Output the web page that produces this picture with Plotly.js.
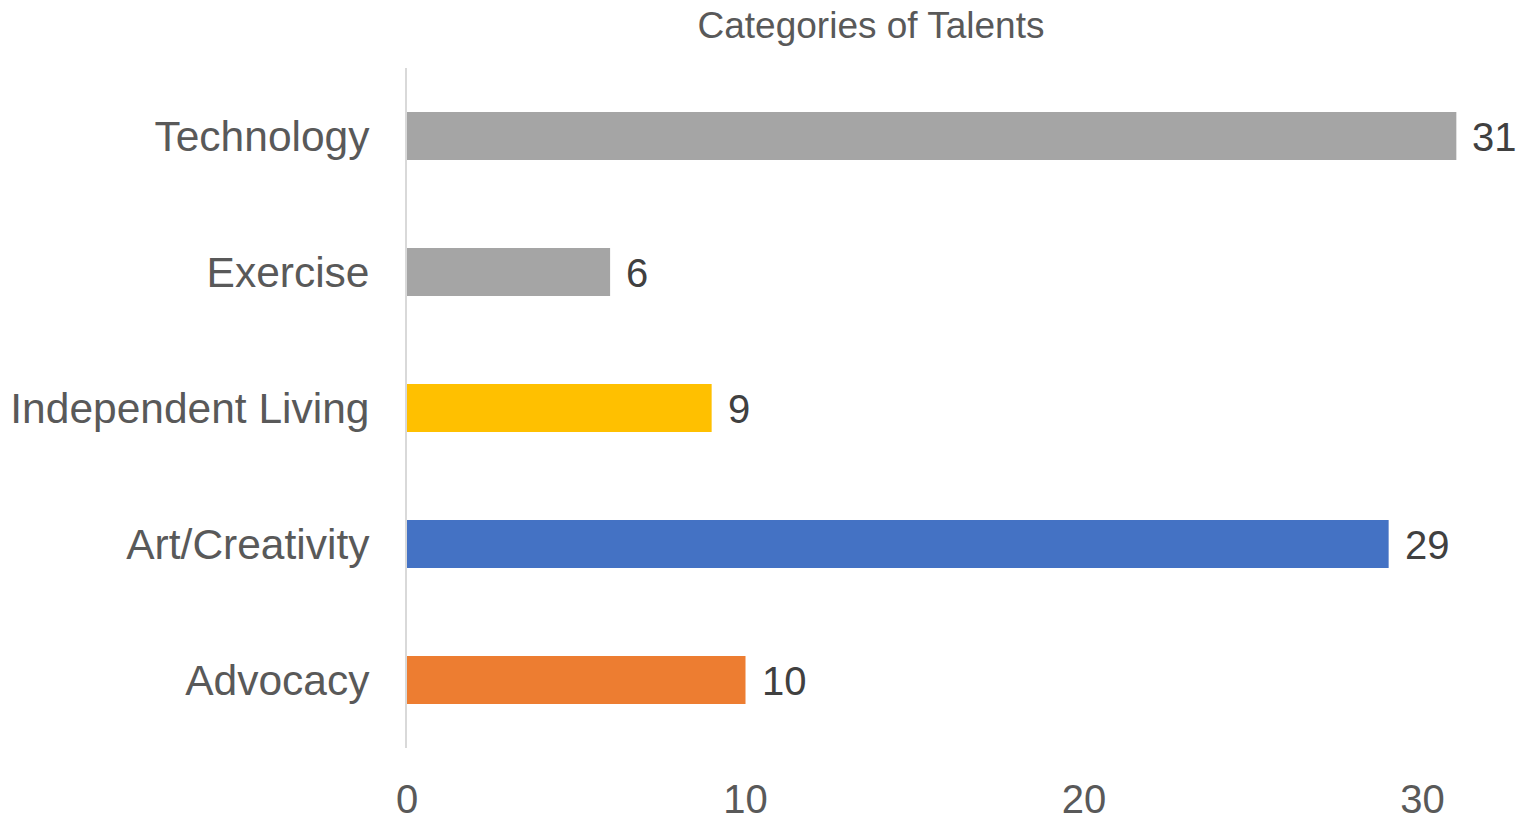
<!DOCTYPE html>
<html>
<head>
<meta charset="utf-8">
<script src="https://cdn.plot.ly/plotly-3.0.1.min.js"></script>
<style>html,body{margin:0;padding:0;background:#fff;}#chart{width:1519px;height:817px;}</style>
</head>
<body>
<div id="chart"></div>
<script>
// Categories listed bottom -> top
const categories = ["Advocacy", "Art/Creativity", "Independent Living", "Exercise", "Technology"];
const values = [10, 29, 9, 6, 31];
const barColors = ["#ED7D31", "#4472C4", "#FFC000", "#A5A5A5", "#A5A5A5"];
const xTicks = [0, 10, 20, 30];
const chartTitle = "Categories of Talents";

const FONT = "Liberation Sans, Arial, sans-serif";

const trace = {
  type: "bar",
  orientation: "h",
  y: categories,
  x: values,
  marker: {color: barColors, line: {width: 0}},
  hoverinfo: "x+y"
};

const annotations = categories.map((c, i) => ({
  x: values[i], y: c, xref: "x", yref: "y",
  text: String(values[i]), showarrow: false,
  xanchor: "left", xshift: 14, yshift: -1,
  font: {family: FONT, size: 40, color: "#404040"}
}));

const layout = {
  width: 1519, height: 817,
  margin: {l: 407, r: 0, t: 68, b: 69, pad: 0},
  paper_bgcolor: "#ffffff", plot_bgcolor: "#ffffff",
  showlegend: false,
  bargap: 0.647,
  title: {
    text: chartTitle,
    font: {family: FONT, size: 37, color: "#595959"},
    x: 871 / 1519, xref: "container", xanchor: "center",
    y: 1 - 25 / 817, yref: "container", yanchor: "middle"
  },
  xaxis: {
    range: [0, 1112 / 33.85],
    tickvals: xTicks,
    ticktext: xTicks.map(String),
    showgrid: false, zeroline: false, showline: false,
    ticks: "",
    tickfont: {family: FONT, size: 40, color: "#595959"},
    ticklabelstandoff: 24,
    fixedrange: true
  },
  yaxis: {
    type: "category",
    showgrid: false, zeroline: false,
    showline: true, linecolor: "#D9D9D9", linewidth: 2,
    ticks: "",
    tickfont: {family: FONT, size: 42.5, color: "#595959"},
    ticklabelstandoff: 27,
    fixedrange: true
  },
  annotations: annotations
};

Plotly.newPlot("chart", [trace], layout, {displayModeBar: false, staticPlot: true});
</script>
</body>
</html>
